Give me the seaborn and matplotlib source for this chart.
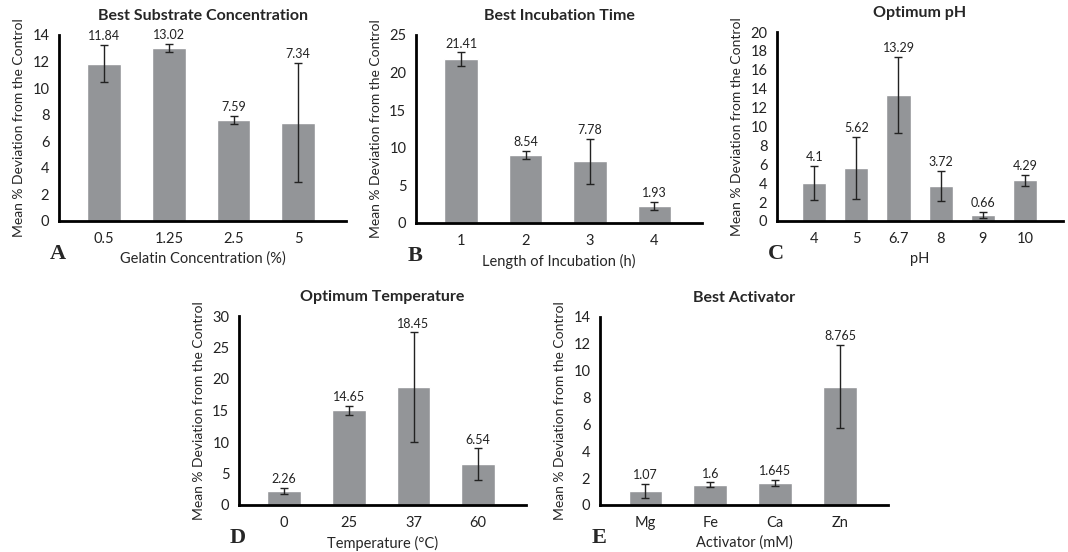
import numpy as np
import pandas as pd
import seaborn as sns
import matplotlib.pyplot as plt

sns.set_style("white")
plt.rcParams['font.family'] = ['Lato', 'DejaVu Sans']

# panel A - substrate
conc_cats = ['0.5', '1.25', '2.5', '5']
conc_vals = [11.84, 13.05, 7.6, 7.4]
conc_err = [1.4, 0.3, 0.3, 4.5]
conc_labels = ['11.84', '13.02', '7.59', '7.34']

# panel B - incubation
inc_cats = ['1', '2', '3', '4']
inc_vals = [21.8, 9.0, 8.2, 2.3]
inc_err = [0.9, 0.55, 3.0, 0.55]
inc_labels = ['21.41', '8.54', '7.78', '1.93']

# panel C - pH
ph_cats = ['4', '5', '6.7', '8', '9', '10']
ph_vals = [4.05, 5.6, 13.35, 3.7, 0.62, 4.3]
ph_err = [1.8, 3.3, 4.05, 1.6, 0.33, 0.57]
ph_labels = ['4.1', '5.62', '13.29', '3.72', '0.66', '4.29']

# panel D - temperature
temp_cats = ['0', '25', '37', '60']
temp_vals = [2.25, 15.05, 18.7, 6.5]
temp_err = [0.5, 0.7, 8.7, 2.5]
temp_labels = ['2.26', '14.65', '18.45', '6.54']

# panel E - activator
act_cats = ['Mg', 'Fe', 'Ca', 'Zn']
act_vals = [1.07, 1.52, 1.65, 8.8]
act_err = [0.53, 0.16, 0.22, 3.1]
act_labels = ['1.07', '1.6', '1.645', '8.765']

bar_color = '#939598'
W, H = 1068, 552

fig = plt.figure(figsize=(10.68, 5.52), dpi=100)

def px_axes(left, right, top, bottom):
    return fig.add_axes([left / W, 1 - bottom / H, (right - left) / W, (bottom - top) / H])

def panel(ax, cats, vals, errs, labels, title, xlabel, letter, ymax, ystep, xlim, width):
    df = pd.DataFrame({'cat': cats, 'val': vals})
    sns.barplot(data=df, x='cat', y='val', ax=ax, color=bar_color, width=width,
                saturation=1, errorbar=None, order=cats)
    ax.errorbar(np.arange(len(cats)), vals, yerr=errs, fmt='none', ecolor='#222222',
                elinewidth=1, capsize=3, capthick=1)
    for i, (v, e, lab) in enumerate(zip(vals, errs, labels)):
        ax.annotate(lab, (i, v + e), xytext=(0, 2), textcoords='offset points',
                    ha='center', va='bottom', fontsize=9, color='#222222')
    ax.set_ylim(0, ymax)
    ax.set_yticks(np.arange(0, ymax + 0.01, ystep))
    ax.set_xlim(*xlim)
    ax.set_title(title, fontsize=11.5, fontweight='bold', pad=11)
    ax.set_xlabel(xlabel, fontsize=10.5, labelpad=4)
    ax.set_ylabel('Mean % Deviation from the Control', fontsize=10, labelpad=5)
    sns.despine(ax=ax)
    for s in ['left', 'bottom']:
        ax.spines[s].set_linewidth(2)
        ax.spines[s].set_color('black')
    ax.tick_params(axis='both', length=0, labelsize=10.5, colors='#222222')
    ax.tick_params(axis='x', pad=8)
    ax.tick_params(axis='y', pad=7)
    ax.text(-0.005, -0.175, letter, transform=ax.transAxes, ha='center', va='center',
            fontsize=16, fontweight='bold', family=['Liberation Serif', 'DejaVu Serif'])

ax = px_axes(59, 346, 35, 221)
panel(ax, conc_cats, conc_vals, conc_err, conc_labels, 'Best Substrate Concentration',
      'Gelatin Concentration (%)', 'A', 14, 2, (-0.7, 3.74), 0.52)

ax = px_axes(416, 702, 35, 223)
panel(ax, inc_cats, inc_vals, inc_err, inc_labels, 'Best Incubation Time',
      'Length of Incubation (h)', 'B', 25, 5, (-0.7, 3.74), 0.52)

ax = px_axes(777, 1063, 32, 221)
panel(ax, ph_cats, ph_vals, ph_err, ph_labels, 'Optimum pH',
      'pH', 'C', 20, 2, (-0.88, 5.9), 0.57)

ax = px_axes(239, 526, 316, 505)
panel(ax, temp_cats, temp_vals, temp_err, temp_labels, 'Optimum Temperature',
      'Temperature (°C)', 'D', 30, 5, (-0.7, 3.74), 0.52)

ax = px_axes(600, 888, 317, 505)
panel(ax, act_cats, act_vals, act_err, act_labels, 'Best Activator',
      'Activator (mM)', 'E', 14, 2, (-0.7, 3.74), 0.52)

fig.savefig('out.png', dpi=100, facecolor='white')
